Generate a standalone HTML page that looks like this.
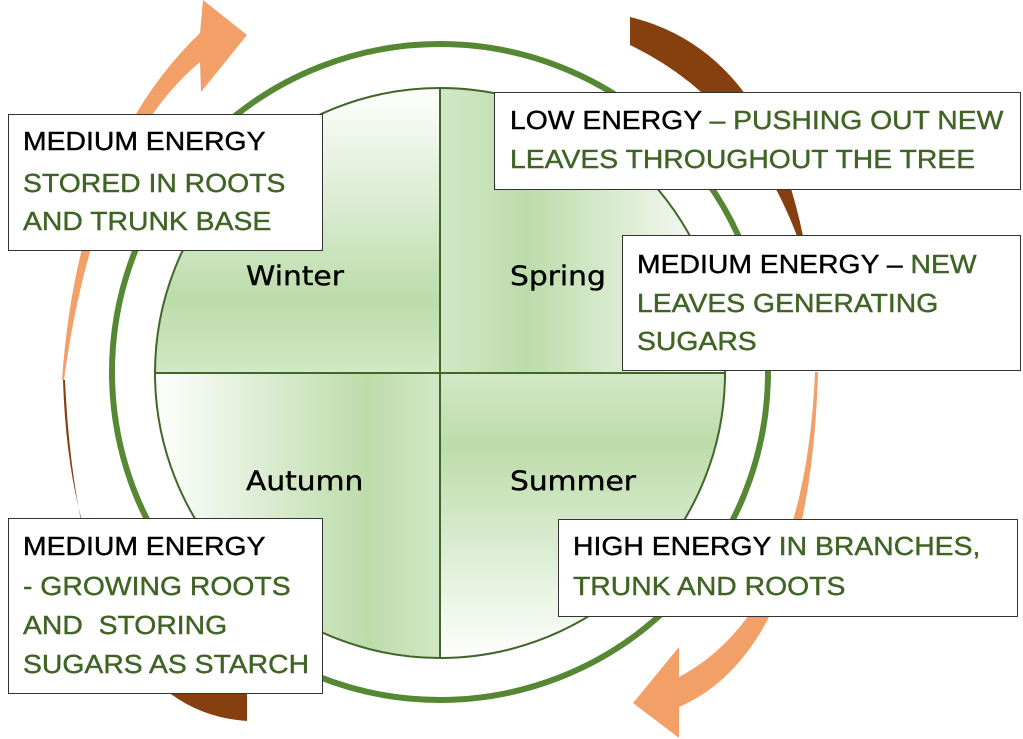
<!DOCTYPE html>
<html><head><meta charset="utf-8"><style>
html,body{margin:0;padding:0;background:#fff;}
body{width:1023px;height:739px;position:relative;overflow:hidden;font-family:"Liberation Sans",sans-serif;}
.box{position:absolute;background:#fff;border:1.5px solid #333;box-sizing:border-box;}
.t{position:absolute;font-size:26px;white-space:nowrap;color:#3f6424;transform:scaleX(1.09);transform-origin:0 0;-webkit-text-stroke:0.4px currentColor;}
.k{color:#000;}
.s{position:absolute;font-size:27px;color:#000;font-family:"DejaVu Sans","Liberation Sans",sans-serif;transform:scaleX(1.1);transform-origin:0 0;-webkit-text-stroke:0.4px #000;}
</style></head><body>
<svg width="1023" height="739" style="position:absolute;left:0;top:0">
<defs>
<linearGradient id="gw" x1="0" y1="0" x2="0" y2="1"><stop offset="0" stop-color="#fff"/><stop offset="0.75" stop-color="#bcdcaa"/><stop offset="1" stop-color="#d2e8c6"/></linearGradient>
<linearGradient id="gs" x1="0" y1="0" x2="1" y2="0"><stop offset="0" stop-color="#d2e8c6"/><stop offset="0.3" stop-color="#bcdcaa"/><stop offset="1" stop-color="#fff"/></linearGradient>
<linearGradient id="ga" x1="0" y1="0" x2="1" y2="0"><stop offset="0" stop-color="#fff"/><stop offset="0.75" stop-color="#bcdcaa"/><stop offset="1" stop-color="#d2e8c6"/></linearGradient>
<linearGradient id="gu" x1="0" y1="0" x2="0" y2="1"><stop offset="0" stop-color="#d2e8c6"/><stop offset="0.25" stop-color="#bcdcaa"/><stop offset="1" stop-color="#fff"/></linearGradient>
<clipPath id="c"><circle cx="440" cy="373" r="285"/></clipPath>
</defs>
<circle cx="440" cy="372" r="328" fill="none" stroke="#568733" stroke-width="6"/>
<g clip-path="url(#c)">
<rect x="150" y="85" width="290" height="288" fill="url(#gw)"/>
<rect x="440" y="85" width="290" height="288" fill="url(#gs)"/>
<rect x="150" y="373" width="290" height="290" fill="url(#ga)"/>
<rect x="440" y="373" width="290" height="290" fill="url(#gu)"/>
</g>
<circle cx="440" cy="373" r="285" fill="none" stroke="#40662a" stroke-width="2"/>
<line x1="440" y1="88" x2="440" y2="658" stroke="#40662a" stroke-width="2"/>
<line x1="155" y1="373" x2="725" y2="373" stroke="#40662a" stroke-width="2"/>
<path d="M62,380 Q78,150 200,33 L203,0 L247,35 L201,92 L200,62 Q95,150 64,380 Z" fill="#f2a068"/>
<path d="M630,17 Q765,50 803,236 L797,236 Q745,100 630,45 Z" fill="#86400f"/>
<path d="M815,372 Q805,610 679,677 L679,647 L633,703 L679,738 L679,707 Q810,650 818,372 Z" fill="#f2a068"/>
<path d="M63,380 Q72,660 247,693 L247,721 Q80,710 65,380 Z" fill="#86400f"/>
</svg>
<div class="box" style="left:8px;top:114px;width:315px;height:137px"></div>
<div class="t k" style="left:23px;top:126px">MEDIUM ENERGY</div>
<div class="t" style="left:23px;top:168px">STORED IN ROOTS</div>
<div class="t" style="left:23px;top:206px">AND TRUNK BASE</div>

<div class="box" style="left:494px;top:92px;width:527px;height:98px"></div>
<div class="t" style="left:510px;top:105px"><span class="k">LOW ENERGY</span> – PUSHING OUT NEW</div>
<div class="t" style="left:510px;top:144px">LEAVES THROUGHOUT THE TREE</div>

<div class="box" style="left:622px;top:235px;width:399px;height:136px"></div>
<div class="t" style="left:637px;top:249px"><span class="k">MEDIUM ENERGY –</span> NEW</div>
<div class="t" style="left:637px;top:288px">LEAVES GENERATING</div>
<div class="t" style="left:637px;top:326px">SUGARS</div>

<div class="box" style="left:558px;top:519px;width:460px;height:98px"></div>
<div class="t" style="left:573px;top:531px"><span class="k">HIGH ENERGY</span> IN BRANCHES,</div>
<div class="t" style="left:573px;top:571px">TRUNK AND ROOTS</div>

<div class="box" style="left:8px;top:518px;width:315px;height:176px"></div>
<div class="t k" style="left:23px;top:531px">MEDIUM ENERGY</div>
<div class="t" style="left:23px;top:571px">- GROWING ROOTS</div>
<div class="t" style="left:23px;top:610px">AND&nbsp; STORING</div>
<div class="t" style="left:23px;top:649px">SUGARS AS STARCH</div>

<div class="s" style="left:246px;top:261px">Winter</div>
<div class="s" style="left:510px;top:261px">Spring</div>
<div class="s" style="left:246px;top:466px">Autumn</div>
<div class="s" style="left:510px;top:466px">Summer</div>
</body></html>
